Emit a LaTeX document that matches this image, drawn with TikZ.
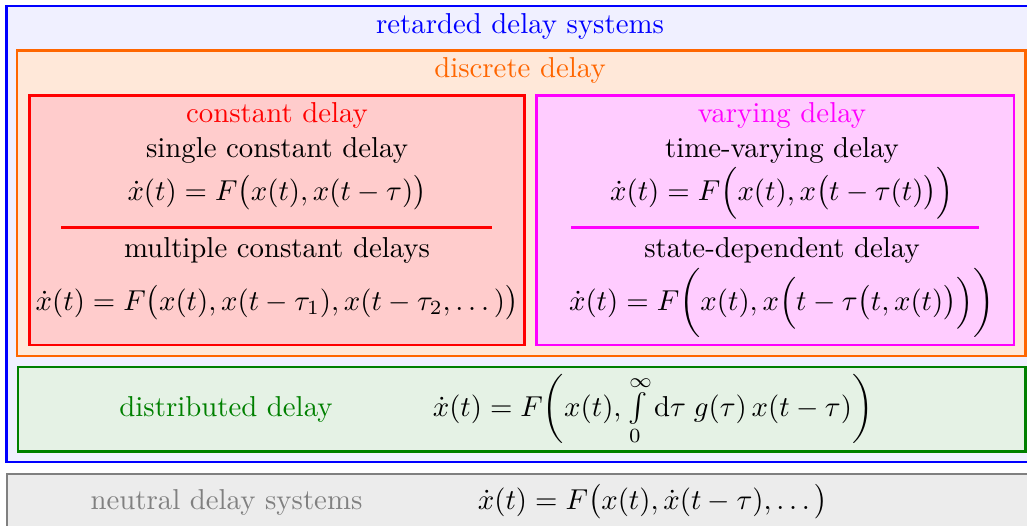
\documentclass[tikz,border=0pt]{standalone}
\usepackage{amsmath}
\definecolor{myorange}{RGB}{255,102,0}
\definecolor{mygreen}{RGB}{0,128,0}
\definecolor{mymag}{RGB}{255,0,255}
\definecolor{mygray}{RGB}{128,128,128}
\begin{document}
\begin{tikzpicture}[x=0.3472pt,y=-0.3472pt,
  frame/.style={line width=0.9pt},
  txt/.style={inner sep=0pt,anchor=base}]
\useasboundingbox (0,0) rectangle (1027,525);
\clip (0,0) rectangle (1027,525);
% retarded
\draw[frame,draw=blue,fill=blue!6] (6.5,6) rectangle (1029.5,462);
\node[txt,text=blue] (ret) at (520,33.5) {retarded delay systems};
% discrete
\draw[frame,draw=myorange,fill=myorange!15] (17,50.5) rectangle (1025.5,356);
\node[txt,text=myorange] (disc) at (520,77.5) {discrete delay};
% constant
\draw[frame,draw=red,fill=red!20] (29.5,95.5) rectangle (524.5,345);
\node[txt,text=red] (const) at (277,122.5) {constant delay};
\node[txt] (single) at (277,157) {single constant delay};
\node[txt] (singleeq) at (277,200) {$\dot x(t)=F\big(x(t),x(t-\tau)\big)$};
\draw[line width=0.9pt,red] (61,227.5) -- (492,227.5);
\node[txt] (mult) at (277,257) {multiple constant delays};
\node[txt] (multeq) at (277,310) {$\dot x(t)=F\big(x(t),x(t-\tau_1),x(t-\tau_2,\dots)\big)$};
% varying
\draw[frame,draw=mymag,fill=mymag!20] (536.5,95.5) rectangle (1014,345);
\node[txt,text=mymag] (vary) at (782,122.5) {varying delay};
\node[txt] (tv) at (782,157) {time-varying delay};
\node[txt] (tveq) at (782,200) {$\dot x(t)=F\Big(x(t),x\big(t-\tau(t)\big)\Big)$};
\draw[line width=0.9pt,mymag] (571,227.5) -- (979,227.5);
\node[txt] (sd) at (782,257) {state-dependent delay};
\node[txt] (sdeq) at (782,310) {$\dot x(t)=F\bigg(x(t),x\Big(t-\tau\big(t,x(t)\big)\Big)\bigg)$};
% distributed
\draw[frame,draw=mygreen,fill=mygreen!10] (18,367) rectangle (1025.5,451.5);
\node[txt,text=mygreen] (dist) at (226,416) {distributed delay};
\node[txt] (disteq) at (653,416) {$\dot x(t)=F\bigg(x(t),\int\limits_0^\infty\mathrm{d}\tau\;g(\tau)\,x(t-\tau)\bigg)$};
% neutral
\draw[frame,draw=mygray,fill=mygray!15] (7,474) rectangle (1029.5,535);
\node[txt,text=mygray] (neu) at (226.5,509) {neutral delay systems};
\node[txt] (neueq) at (653,509) {$\dot x(t)=F\big(x(t),\dot x(t-\tau),\dots\big)$};
\end{tikzpicture}
\end{document}
